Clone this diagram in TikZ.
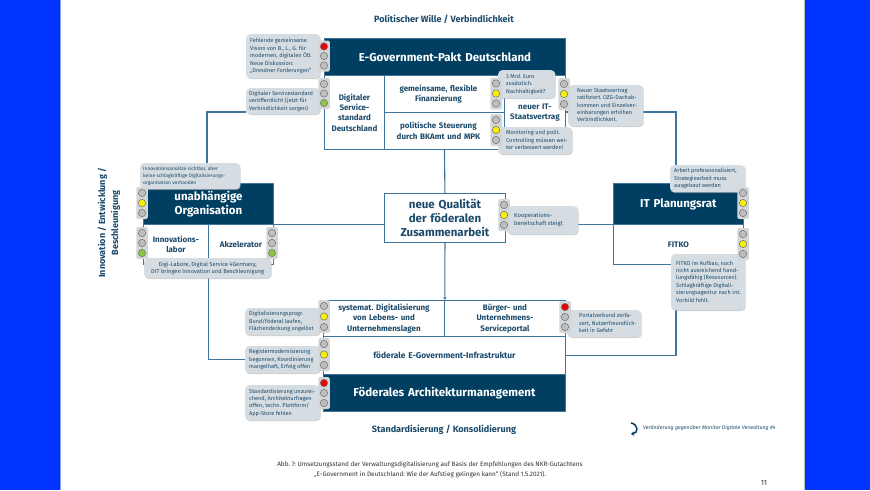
\documentclass[tikz,border=0pt]{standalone}
\usepackage{fontspec}
\setmainfont{Fira Sans}
\usetikzlibrary{shadows,arrows.meta}
\definecolor{navy}{HTML}{003F62}
\definecolor{inkblue}{HTML}{1B4A6B}
\definecolor{wire}{HTML}{41749A}
\definecolor{calloutgray}{HTML}{D6DDE2}
\definecolor{housing}{HTML}{D3D6D8}
\definecolor{lampoff}{HTML}{BEBEBE}
\definecolor{lampred}{HTML}{F00000}
\definecolor{lampyel}{HTML}{F7EF00}
\definecolor{lampgrn}{HTML}{8CC63F}
\definecolor{band}{HTML}{0033FF}
\pgfdeclarelayer{pagelayer}
\pgfdeclarelayer{wirelayer}
\pgfsetlayers{pagelayer,wirelayer,main}
\frenchspacing
\tikzset{
  x=1pt,y=-1pt,
  wirepath/.style={draw=wire,line width=1.1pt},
  darkcell/.style={draw=wire,line width=.9pt,fill=navy,text=white,font=\bfseries\fontsize{11.5}{14.5}\selectfont,align=center,inner sep=0pt},
  whitecell/.style={draw=wire,line width=.9pt,fill=white,text=inkblue,font=\bfseries\fontsize{8}{10.4}\selectfont,align=center,inner sep=0pt},
  notebox/.style={fill=calloutgray,rounded corners=4pt,text=inkblue,font=\fontsize{5.6}{7.4}\selectfont,inner sep=0pt,
     drop shadow={shadow xshift=.5pt,shadow yshift=-.8pt,fill=gray!60,opacity=.6}},
  lamphouse/.style={fill=housing,rounded corners=1.5pt,inner sep=0pt},
  lamp/.style={circle,draw=black!55,line width=.5pt,minimum size=7.4pt,inner sep=0pt},
  headline/.style={text=inkblue,font=\bfseries\fontsize{9.1}{11}\selectfont,align=center},
}
\newcommand{\lf}{\hspace*{-12pt}}
% cell: name, x1, y1, x2, y2, style, text
\newcommand{\cellbox}[7]{%
  \pgfmathsetmacro{\cw}{#4-#2}\pgfmathsetmacro{\ch}{#5-#3}%
  \node[#6,anchor=north west,minimum width=\cw pt,minimum height=\ch pt,text width=\cw pt-2pt] (#1) at (#2,#3) {#7};}
% note: [style], name, x1, y1, x2, y2, left inset, text
\newcommand{\notecard}[8][]{%
  \pgfmathsetmacro{\cw}{#5-#3}\pgfmathsetmacro{\ch}{#6-#4}%
  \node[notebox,#1,anchor=north west,minimum width=\cw pt,minimum height=\ch pt] (#2) at (#3,#4) {\makebox[\cw pt][l]{\hspace*{#7pt}\begin{tabular}{@{}l@{}}#8\end{tabular}}};}
% traffic light: name, cx, top lamp y, lamp gap, c1, c2, c3
\newcommand{\signal}[7]{%
  \pgfmathsetmacro{\mh}{2*#4+12}%
  \node[lamphouse,minimum width=11.5pt,minimum height=\mh pt] (#1) at (#2,#3+#4) {};
  \node[lamp,fill=#5] (#1a) at (#2,#3) {};
  \node[lamp,fill=#6] (#1b) at (#2,#3+#4) {};
  \node[lamp,fill=#7] (#1c) at (#2,#3+2*#4) {};}
\begin{document}
\begin{tikzpicture}
\useasboundingbox (0,0) rectangle (870,490);
\begin{pgfonlayer}{pagelayer}
\fill[white] (0,0) rectangle (870,490);
\fill[band!45!white] (60,0) rectangle (61,490);
\fill[black!25] (804,0) rectangle (805,490);
\fill[band] (0,0) rectangle (60,490);
\fill[band] (805,0) rectangle (870,490);
\end{pgfonlayer}

% central frame
\cellbox{qual}{384}{193}{505}{242}{whitecell,font=\bfseries\fontsize{11.5}{14.2}\selectfont}{neue Qualität\\der föderalen\\Zusammenarbeit}

% Top block
\cellbox{pakt}{324}{38}{565}{75}{darkcell}{E-Government-Pakt Deutschland}
\cellbox{dsd}{324}{75}{384}{149}{whitecell}{Digitaler\\Service-\\standard\\Deutschland}
\cellbox{finanz}{384}{75}{504}{112}{whitecell}{\lf gemeinsame, flexible\\\lf Finanzierung}
\cellbox{steuer}{384}{112}{504}{149}{whitecell}{\lf politische Steuerung\\\lf durch BKAmt und MPK}
\cellbox{staat}{504}{75}{565}{149}{whitecell}{neuer IT-\\Staatsvertrag}

% Left block
\cellbox{org}{143}{183}{273}{224}{darkcell}{unabhängige\\Organisation}
\cellbox{lab}{143}{224}{208}{264}{whitecell}{Innovations-\\labor}
\cellbox{akz}{208}{224}{273}{264}{whitecell}{Akzelerator}

% Right block
\cellbox{itp}{613}{183}{743}{224}{darkcell}{IT Planungsrat}
\cellbox{fitko}{613}{224}{743}{264}{whitecell}{FITKO}

% Bottom block
\cellbox{syst}{323}{300}{444}{336}{whitecell}{systemat. Digitalisierung\\von Lebens- und\\Unternehmenslagen}
\cellbox{portal}{444}{300}{565}{336}{whitecell}{Bürger- und\\Unternehmens-\\Serviceportal}
\cellbox{infra}{323}{336}{565}{374}{whitecell,font=\bfseries\fontsize{8.4}{10.4}\selectfont}{föderale E-Government-Infrastruktur}
\cellbox{fam}{323}{374}{565}{411}{darkcell}{Föderales Architekturmanagement}

% Notes
\notecard{n1}{246}{34}{320}{78}{4}{Fehlende gemeinsame\\Vision von B., L., G. für\\modernen, digitalen ÖD.\\Neue Diskussion:\\„Dresdner Forderungen“}
\notecard{n2}{246}{88}{320}{114}{3}{Digitaler Servicestandard\\veröffentlicht (jetzt für\\Verbindlichkeit sorgen)}
\notecard{n3}{498}{70}{555}{98}{8}{3 Mrd. Euro\\zusätzlich.\\Nachhaltigkeit?}
\notecard{n4}{498}{127}{572}{154}{8}{Monitoring und polit.\\Controlling müssen wei-\\ter verbessert werden!}
\notecard{n5}{568}{85}{643}{126}{9}{Neuer Staatsvertrag\\ratifiziert. OZG-Dachab-\\kommen und Einzelver-\\einbarungen erhöhen\\Verbindlichkeit.}
\notecard[font=\fontsize{4.9}{7.2}\selectfont]{n6}{140}{163}{240}{189}{3}{Innovationsansätze sichtbar, aber\\keine schlagkräftige Digitalisierungs-\\organisation vorhanden}
\node[notebox,font=\fontsize{5.7}{7.6}\selectfont,align=center,anchor=north west,minimum width=127pt,minimum height=20pt] (n7) at (144,258) {Digi-Labore, Digital Service 4Germany,\\DIT bringen Innovation und Beschleunigung};
\notecard[font=\fontsize{5.9}{7.6}\selectfont]{n8}{507}{206}{578}{234}{7}{Kooperations-\\bereitschaft steigt}
\notecard{n9}{670}{165}{745}{192}{4}{Arbeit professionalisiert,\\Strategiearbeit muss\\ausgebaut werden}
\notecard{n10}{671}{254}{745}{310}{5}{FITKO im Aufbau, noch\\nicht ausreichend hand-\\lungsfähig (Ressourcen).\\Schlagkräftige Digitali-\\sierungsagentur nach int.\\Vorbild fehlt.}
\notecard{n11}{567}{310}{641}{337}{12}{Portalverbund zerfa-\\sert, Nutzerfreundlich-\\keit in Gefahr}
\notecard{n12}{245}{308}{320}{335}{4}{Digitalisierungsprogr.\\Bund/föderal laufen,\\Flächendeckung ungelöst}
\notecard{n13}{245}{346}{320}{373}{4}{Registermodernisierung\\begonnen, Koordinierung\\mangelhaft, Erfolg offen}
\notecard{n14}{245}{385}{320}{420}{4}{Standardisierung unzurei-\\chend, Architekturfragen\\offen, techn. Plattform/\\App-Store fehlen}

% Connectors
\coordinate (kleft) at (207,112);
\coordinate (kright) at (676,112);
\begin{pgfonlayer}{wirelayer}
\draw[wirepath] (steuer.south) -- (qual.north);
\draw[wirepath,-{Stealth[length=3pt,width=3.5pt]}] (qual.south) -- (syst.north east);
\draw[wirepath] (org.south east) -- (org.south east -| qual.west);
\draw[wirepath] (n8.east |- itp.south west) -- (itp.south west);
\draw[wirepath] (n2.west |- kleft) -- (kleft) -- (kleft |- org.north);
\draw[wirepath] (lab.south east) -- (lab.south east |- n13.west) -- (n13.west);
\draw[wirepath] (staat.east |- kright) -- (kright) -- (kright |- n9.north);
\draw[wirepath] (kright |- n10.south) -- (kright |- infra.east) -- (infra.east);
\end{pgfonlayer}

% Traffic lights
\signal{s1}{324}{46.5}{9.5}{lampred}{lampoff}{lampoff}
\signal{s2}{324}{84}{9.5}{lampoff}{lampoff}{lampgrn}
\signal{s3}{496}{83.5}{10}{lampoff}{lampyel}{lampoff}
\signal{s4}{496}{120}{10}{lampoff}{lampyel}{lampoff}
\signal{s5}{564}{84}{10}{lampoff}{lampyel}{lampoff}
\signal{s6}{142}{193}{10}{lampoff}{lampyel}{lampoff}
\signal{s7}{142}{233}{10}{lampoff}{lampoff}{lampgrn}
\signal{s8}{272}{233}{10}{lampoff}{lampoff}{lampgrn}
\signal{s9}{504}{205}{10}{lampoff}{lampyel}{lampoff}
\signal{s10}{743}{193}{10}{lampoff}{lampyel}{lampoff}
\signal{s11}{743}{234}{10}{lampoff}{lampyel}{lampoff}
\signal{s12}{324}{306}{10.5}{lampoff}{lampyel}{lampoff}
\signal{s13}{324}{344}{10.5}{lampoff}{lampyel}{lampoff}
\signal{s14}{324}{383}{10}{lampred}{lampoff}{lampoff}
\signal{s15}{565}{307}{10}{lampred}{lampoff}{lampoff}

% Axis titles
\node[headline] (top) at (444,19) {Politischer Wille / Verbindlichkeit};
\node[headline] (bottom) at (444,430) {Standardisierung / Konsolidierung};
\node[headline,rotate=90,font=\bfseries\fontsize{9}{13}\selectfont] (leftaxis) at (109,223) {Innovation / Entwicklung /\\Beschleunigung};

% Legend
\node[text=inkblue,font=\itshape\fontsize{5.3}{6}\selectfont,anchor=west,inner sep=0pt] (legend) at (643,428) {Veränderung gegenüber Monitor Digitale Verwaltung \#4};
\coordinate (arrowstart) at (631,423);
\coordinate (arrowend) at (631,434);
\draw[navy,line width=1.5pt,-{Stealth[length=3pt,width=4.5pt]}] (arrowstart) .. controls (638,424) and (639,433) .. (arrowend);

% Caption and page number
\node[text=black!80,font=\fontsize{6.4}{10}\selectfont,align=center] (caption) at (430,470) {Abb. 7: Umsetzungsstand der Verwaltungsdigitalisierung auf Basis der Empfehlungen des NKR-Gutachtens\\„E-Government in Deutschland: Wie der Aufstieg gelingen kann“ (Stand 1.5.2021).};
\node[text=black!80,font=\fontsize{7.5}{9}\selectfont] (pageno) at (764,483) {11};
\end{tikzpicture}
\end{document}
